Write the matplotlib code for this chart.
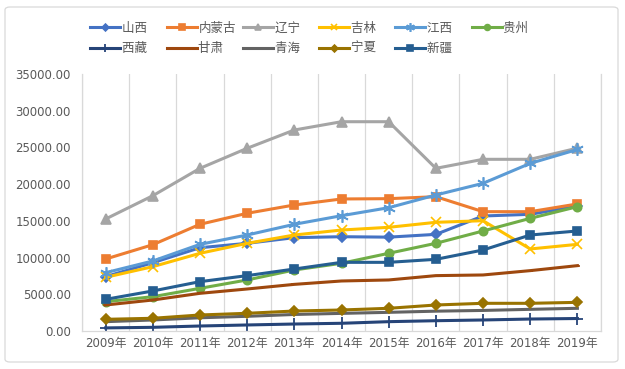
import matplotlib
matplotlib.use("Agg")
import matplotlib.pyplot as plt
from matplotlib.patches import FancyBboxPatch
from matplotlib.ticker import FixedLocator, FuncFormatter

plt.rcParams['font.family'] = ['Noto Sans CJK SC', 'DejaVu Sans']

years = ["2009年", "2010年", "2011年", "2012年", "2013年", "2014年",
         "2015年", "2016年", "2017年", "2018年", "2019年"]

shanxi = [7400, 9300, 11340, 11940, 12710, 12840, 12780, 13160, 15660, 15890, 17020]
neimenggu = [9800, 11750, 14530, 16030, 17160, 17980, 18020, 18290, 16250, 16250, 17300]
liaoning = [15250, 18420, 22150, 24880, 27370, 28500, 28500, 22150, 23380, 23380, 24900]
jilin = [7310, 8760, 10580, 11940, 13070, 13750, 14120, 14800, 15020, 11170, 11800]
jiangxi = [7940, 9530, 11800, 13070, 14530, 15700, 16790, 18520, 20110, 22830, 24720]
guizhou = [3990, 4670, 5810, 6950, 8310, 9220, 10580, 11940, 13620, 15340, 16930]
xizang = [420, 500, 680, 820, 950, 1050, 1270, 1400, 1500, 1630, 1700]
gansu = [3540, 4220, 5130, 5720, 6350, 6810, 6950, 7540, 7630, 8220, 8900]
qinghai = [1270, 1500, 1800, 2000, 2250, 2400, 2540, 2700, 2800, 2950, 3090]
ningxia = [1590, 1730, 2180, 2410, 2720, 2860, 3090, 3540, 3770, 3770, 3900]
xinjiang = [4310, 5450, 6720, 7540, 8440, 9350, 9350, 9760, 11030, 13070, 13620]

series = [
    ("山西", shanxi, "#4472C4", "D", 5),
    ("内蒙古", neimenggu, "#ED7D31", "s", 6),
    ("辽宁", liaoning, "#A5A5A5", "^", 7),
    ("吉林", jilin, "#FFC000", "x", 7),
    ("江西", jiangxi, "#5B9BD5", (6, 2, 0), 9),
    ("贵州", guizhou, "#70AD47", "o", 6),
    ("西藏", xizang, "#264478", "|", 7),
    ("甘肃", gansu, "#9E480E", "_", 5),
    ("青海", qinghai, "#636363", None, 0),
    ("宁夏", ningxia, "#997300", "D", 5),
    ("新疆", xinjiang, "#255E91", "s", 6),
]

fig = plt.figure(figsize=(6.25, 3.69), dpi=100)
ax = fig.add_axes([0.1312, 0.103, 0.8304, 0.6965])

x = list(range(len(years)))
handles = {}
for name, vals, col, mk, ms in series:
    if name == "西藏":
        ln, = ax.plot(x, vals, color=col, lw=2.2, marker="+", ms=8, mew=1.3, label=name)
    else:
        ln, = ax.plot(x, vals, color=col, lw=2.2, marker=mk, ms=ms,
                      mec=col, mfc=col, mew=1.2, label=name)
    handles[name] = ln

ax.set_xlim(-0.5, len(years) - 0.5)
ax.set_ylim(0, 35000)
ax.set_yticks(range(0, 35001, 5000))
ax.yaxis.set_major_formatter(FuncFormatter(lambda v, p: f"{v:.2f}"))
ax.set_xticks(x)
ax.set_xticklabels(years, family=['DejaVu Sans', 'Noto Sans CJK SC'])
for t in ax.get_yticklabels():
    t.set_family('DejaVu Sans')
ax.xaxis.set_minor_locator(FixedLocator([i + 0.5 for i in range(-1, len(years))]))
ax.grid(True, which="minor", axis="x", color="#D9D9D9", lw=0.9)
ax.tick_params(axis="both", which="both", length=0, colors="#595959", labelsize=8.5)
ax.tick_params(axis="y", pad=8)
ax.tick_params(axis="x", pad=4)
ax.spines["top"].set_visible(False)
for s in ["left", "bottom", "right"]:
    ax.spines[s].set_color("#D9D9D9")
    ax.spines[s].set_linewidth(0.9)

order = ["山西", "西藏", "内蒙古", "甘肃", "辽宁", "青海", "吉林", "宁夏", "江西", "新疆", "贵州"]
labels = [n if len(n) == 3 else n + "\u3000" for n in order]
fig.legend([handles[n] for n in order], labels, ncol=6, loc="upper center",
           bbox_to_anchor=(0.505, 0.972), frameon=False, fontsize=9,
           labelcolor="#595959", handlelength=2.4, columnspacing=0.55,
           handletextpad=0.15, labelspacing=0.6, markerscale=0.7)

border = FancyBboxPatch((5 / 625, 7 / 369), 613 / 625, 355 / 369,
                        boxstyle="round,pad=0,rounding_size=0.008",
                        transform=fig.transFigure, fill=False,
                        edgecolor="#D9D9D9", lw=0.9)
fig.patches.append(border)

fig.savefig("out.png", dpi=100)
